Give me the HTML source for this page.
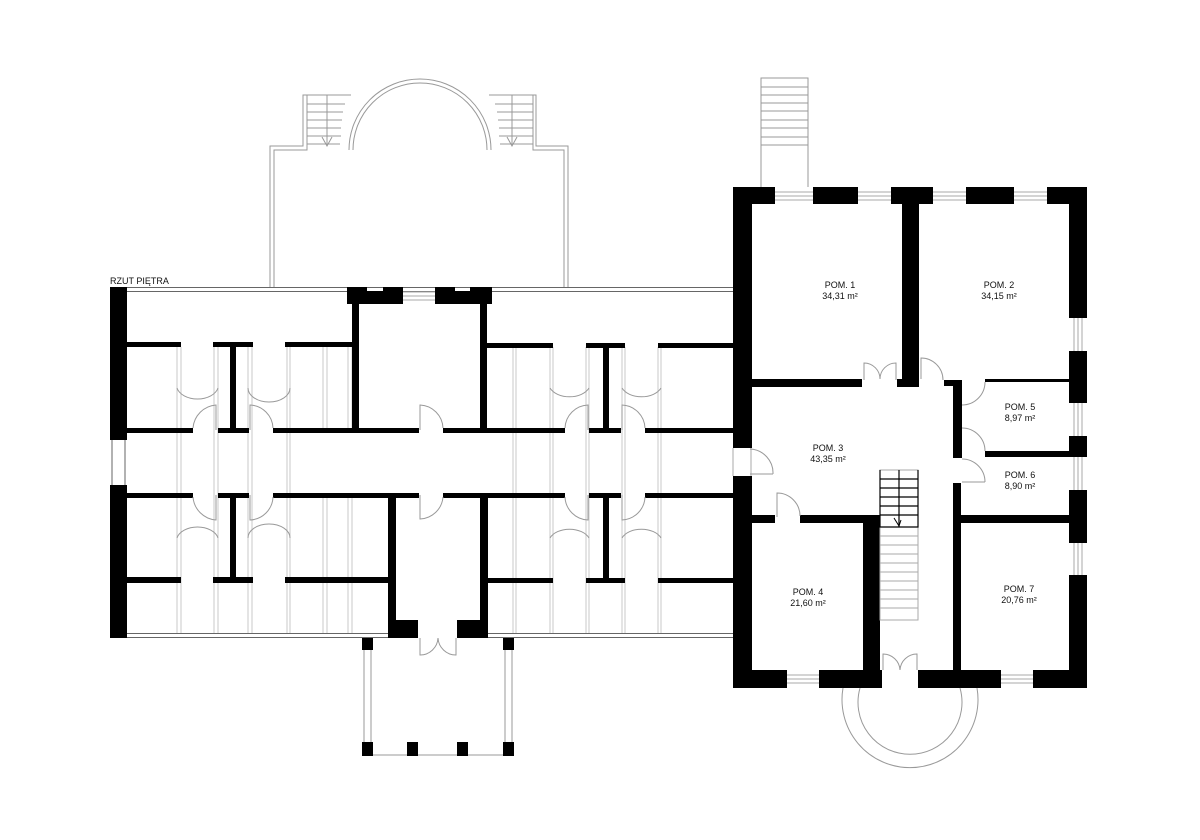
<!DOCTYPE html>
<html><head><meta charset="utf-8"><style>
html,body{margin:0;padding:0;background:#fff;}
svg{display:block;}
text{font-family:"Liberation Sans",sans-serif;font-size:9px;fill:#111;}
</style></head><body>
<svg width="1200" height="840" viewBox="0 0 1200 840" xmlns="http://www.w3.org/2000/svg">
<rect width="1200" height="840" fill="#fff"/>

<!-- top terrace -->
<g fill="none" stroke="#999" stroke-width="1">
  <path d="M270,287 V146 H303 V95 H351"/>
  <path d="M274,287 V150 H307 V95"/>
  <path d="M568,287 V146 H536 V95 H489"/>
  <path d="M564,287 V150 H533 V95"/>
  <path d="M349,150 A71,71 0 0 1 491,150"/>
  <path d="M353,150 A67,67 0 0 1 487,150"/>
  <path d="M307,104H345M307,112H343M307,120H342M307,128H341M307,136H341M307,144H340"/>
  <path d="M495,104H533M497,112H533M498,120H533M499,128H533M499,136H533M500,144H533"/>
  <path d="M327,95V146M512,95V146"/>
  <path d="M322,137 L327,146 L332,137M507,137 L512,146 L517,137"/>
</g>
<!-- top stair right -->
<g fill="none" stroke="#999" stroke-width="1">
  <path d="M761,187V78H808V187"/>
  <path d="M761,87H808M761,95H808M761,103H808M761,111H808M761,120H808M761,128H808M761,137H808M761,145H808"/>
</g>

<!-- left wing outline lines -->
<g fill="none" stroke="#666" stroke-width="1">
  <path d="M127,287.5H733M127,291.5H733"/>
  <path d="M127,633.5H388M127,637.5H388M488,633.5H733M488,637.5H733"/>
  <path d="M112,440V485M125,440V485"/>
</g>
<!-- gray column lines -->
<g stroke="#c8c8c8" stroke-width="1">
  <path d="M177,347V633M181,347V633M214,347V633M218,347V633M248,347V633M252,347V633M287,347V633M290,347V633M323,347V428M327,347V428M323,498V633M327,498V633M348,347V428M352,347V428M348,498V633M352,498V633"/>
  <path d="M513,347V633M516,347V633M550,347V633M553,347V633M586,347V633M589,347V633M622,347V633M625,347V633M658,347V633M661,347V633"/>
</g>

<!-- walls -->
<g fill="#000">
  <rect x="110" y="287" width="17" height="153"/>
  <rect x="110" y="485" width="17" height="153"/>
  <rect x="347" y="287" width="20" height="17"/><rect x="383" y="287" width="20" height="17"/><rect x="367" y="291" width="16" height="13"/>
  <rect x="435" y="287" width="20" height="17"/><rect x="470" y="287" width="22" height="17"/><rect x="455" y="291" width="15" height="13"/>
  <rect x="352" y="304" width="7" height="125"/>
  <rect x="480" y="304" width="7" height="125"/>
  <rect x="127" y="342" width="54" height="5"/><rect x="213" y="342" width="40" height="5"/><rect x="285" y="342" width="67" height="5"/>
  <rect x="230" y="342" width="6" height="91"/>
  <rect x="487" y="343" width="66" height="5"/><rect x="586" y="343" width="39" height="5"/><rect x="658" y="343" width="75" height="5"/>
  <rect x="603" y="343" width="6" height="88"/>
  <rect x="127" y="428" width="66" height="5"/><rect x="218" y="428" width="31" height="5"/><rect x="273" y="428" width="146" height="5"/>
  <rect x="443" y="428" width="122" height="5"/><rect x="589" y="428" width="32" height="5"/><rect x="645" y="428" width="88" height="5"/>
  <rect x="127" y="493" width="66" height="5"/><rect x="218" y="493" width="31" height="5"/><rect x="273" y="493" width="146" height="5"/>
  <rect x="443" y="493" width="122" height="5"/><rect x="589" y="493" width="32" height="5"/><rect x="645" y="493" width="88" height="5"/>
  <rect x="230" y="493" width="6" height="90"/>
  <rect x="603" y="494" width="6" height="88"/>
  <rect x="127" y="577" width="54" height="6"/><rect x="213" y="577" width="40" height="6"/><rect x="285" y="577" width="103" height="6"/>
  <rect x="487" y="578" width="66" height="5"/><rect x="586" y="578" width="39" height="5"/><rect x="658" y="578" width="75" height="5"/>
  <rect x="388" y="493" width="8" height="145"/>
  <rect x="388" y="620" width="30" height="18"/>
  <rect x="457" y="620" width="31" height="18"/>
  <rect x="480" y="493" width="8" height="145"/>
  <rect x="362" y="638" width="11" height="12"/><rect x="503" y="638" width="11" height="12"/>
  <rect x="362" y="742" width="11" height="14"/><rect x="407" y="742" width="11" height="14"/><rect x="457" y="742" width="11" height="14"/><rect x="503" y="742" width="11" height="14"/>

  <rect x="733" y="187" width="19" height="261"/>
  <rect x="733" y="476" width="19" height="212"/>
  <rect x="733" y="187" width="42" height="17"/><rect x="813" y="187" width="45" height="17"/><rect x="891" y="187" width="42" height="17"/><rect x="966" y="187" width="48" height="17"/><rect x="1047" y="187" width="40" height="17"/>
  <rect x="1069" y="187" width="18" height="131"/><rect x="1069" y="351" width="18" height="52"/><rect x="1069" y="436" width="18" height="21"/><rect x="1069" y="490" width="18" height="53"/><rect x="1069" y="575" width="18" height="113"/>
  <rect x="733" y="670" width="54" height="18"/><rect x="819" y="670" width="63" height="18"/>
  <rect x="918" y="670" width="83" height="18"/><rect x="1033" y="670" width="54" height="18"/>
  <rect x="902" y="204" width="17" height="183"/>
  <rect x="752" y="379" width="110" height="8"/>
  <rect x="897" y="379" width="22" height="8"/>
  <rect x="944" y="380" width="18" height="6"/>
  <rect x="953" y="380" width="9" height="78"/>
  <rect x="985" y="379" width="84" height="3"/>
  <rect x="985" y="451" width="84" height="6"/>
  <rect x="953" y="483" width="8" height="187"/>
  <rect x="961" y="515" width="108" height="8"/>
  <rect x="752" y="515" width="23" height="8"/>
  <rect x="800" y="515" width="80" height="8"/>
  <rect x="863" y="515" width="17" height="155"/>
</g>

<!-- windows -->
<g fill="none" stroke="#aaa" stroke-width="1">
  <path d="M403,292H435M403,296H435M403,300H435"/>
  <path d="M775,192H813M775,196H813M775,200H813M858,192H891M858,196H891M858,200H891M933,192H966M933,196H966M933,200H966M1014,192H1047M1014,196H1047M1014,200H1047"/>
  <path d="M1074,318V351M1078,318V351M1082,318V351M1074,403V436M1078,403V436M1082,403V436M1074,457V490M1078,457V490M1082,457V490M1074,543V575M1078,543V575M1082,543V575"/>
  <path d="M787,675H819M787,679H819M787,683H819M1001,675H1033M1001,679H1033M1001,683H1033"/>
  <path d="M733,448V476M751,448V476"/>
</g>

<!-- porch & circle -->
<g fill="none" stroke="#999" stroke-width="1">
  <path d="M364,650V742M371,650V742M505,650V742M512,650V742"/>
  <path d="M373,755H407M418,755H457M468,755H503"/>
  <path d="M843,688 A68,68 0 1 0 977,688"/>
  <path d="M860,688 A52,52 0 1 0 960,688"/>
</g>

<!-- doors -->
<g fill="none" stroke="#999" stroke-width="1">
  <path d="M216,430V405 A25,25 0 0 0 193,428"/>
  <path d="M216,495V520 A25,25 0 0 1 193,497"/>
  <path d="M250,430V405 A24,24 0 0 1 273,428"/>
  <path d="M250,495V520 A24,24 0 0 0 273,497"/>
  <path d="M420,430V405 A24,24 0 0 1 443,428"/>
  <path d="M420,495V519 A24,24 0 0 0 443,497"/>
  <path d="M588,430V405 A24,24 0 0 0 565,428"/>
  <path d="M588,495V520 A24,24 0 0 1 565,497"/>
  <path d="M622,430V405 A24,24 0 0 1 645,428"/>
  <path d="M622,495V520 A24,24 0 0 0 645,497"/>
  <path d="M177,388 A21,14 0 0 0 218,388M248,388 A21,14 0 0 0 290,388M550,388 A21,14 0 0 0 589,388M622,388 A21,14 0 0 0 661,388"/>
  <path d="M177,538 A21,14 0 0 1 218,538M248,538 A21,14 0 0 1 290,538M550,538 A21,14 0 0 1 589,538M622,538 A21,14 0 0 1 661,538"/>
  <path d="M420,638V655 A18,18 0 0 0 438,638M456,638V655 A18,18 0 0 1 438,638"/>
  <path d="M864,380V363 A16,16 0 0 1 880,379M896,380V363 A16,16 0 0 0 880,379"/>
  <path d="M921,379V358 A22,22 0 0 1 943,380"/>
  <path d="M962,405 A23,23 0 0 0 985,382"/>
  <path d="M962,428 A23,23 0 0 1 985,451"/>
  <path d="M962,459 A23,23 0 0 1 985,482 M985,482H962"/>
  <path d="M750,449 A24,24 0 0 1 773,474 M750,474H773"/>
  <path d="M777,517V493 A23,23 0 0 1 800,516"/>
  <path d="M883,670V654 A17,17 0 0 1 900,670M917,670V654 A17,17 0 0 0 900,670"/>
</g>

<!-- stairs -->
<g fill="none">
  <rect x="880" y="470" width="38" height="150" stroke="#aaa"/>
  <path d="M880,470V527H918V470M899,470V527M880,479H918M880,488H918M880,497H918M880,506H918M880,515H918" stroke="#000" stroke-width="1.2"/>
  <path d="M880,536H918M880,545H918M880,554H918M880,563H918M880,572H918M880,581H918M880,590H918M880,599H918M880,608H918" stroke="#aaa"/>
  <path d="M894,518 L899,526 L901,520" stroke="#000"/>
</g>

<!-- labels -->
<text x="110" y="284">RZUT PIĘTRA</text>
<g text-anchor="middle">
  <text x="840" y="288">POM. 1</text><text x="840" y="299">34,31 m²</text>
  <text x="999" y="288">POM. 2</text><text x="999" y="299">34,15 m²</text>
  <text x="1020" y="410">POM. 5</text><text x="1020" y="421">8,97 m²</text>
  <text x="828" y="451">POM. 3</text><text x="828" y="462">43,35 m²</text>
  <text x="1020" y="478">POM. 6</text><text x="1020" y="489">8,90 m²</text>
  <text x="808" y="595">POM. 4</text><text x="808" y="606">21,60 m²</text>
  <text x="1019" y="592">POM. 7</text><text x="1019" y="603">20,76 m²</text>
</g>
</svg>
</body></html>
